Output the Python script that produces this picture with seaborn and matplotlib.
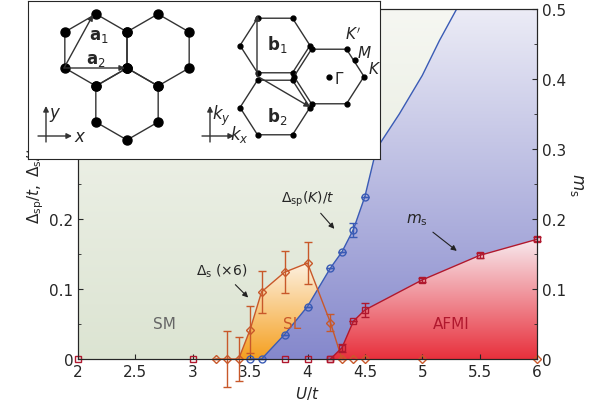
import numpy as np
import seaborn as sns
import matplotlib.pyplot as plt
from matplotlib.colors import to_rgb

sns.set_style("ticks")
plt.rcParams['font.family'] = ['DejaVu Sans']
plt.rcParams['mathtext.fontset'] = 'dejavusans'

# data
ds_x = [3.2, 3.3, 3.4, 3.5, 3.6, 3.8, 4.0, 4.2, 4.3, 4.4, 4.5, 5.0, 6.0]
ds_y = [0, 0, 0, 0.042, 0.096, 0.124, 0.137, 0.052, 0, 0, 0, 0, 0]
ds_err = [0, 0.04, 0.032, 0.034, 0.03, 0.03, 0.03, 0.012, 0, 0, 0, 0, 0]

sp_x = [3.5, 3.6, 3.8, 4.0, 4.2, 4.3, 4.4, 4.5]
sp_y = [0, 0, 0.035, 0.075, 0.13, 0.153, 0.185, 0.232]
sp_err = [0, 0, 0, 0, 0, 0, 0.01, 0]
sp_ext_x = [4.5, 4.6, 4.8, 5.0, 5.15, 5.3]
sp_ext_y = [0.232, 0.3, 0.35, 0.405, 0.455, 0.5]

ms_x = [2.0, 3.0, 3.8, 4.0, 4.2, 4.3, 4.4, 4.5, 5.0, 5.5, 6.0]
ms_y = [0, 0, 0, 0, 0, 0.016, 0.054, 0.07, 0.113, 0.148, 0.171]
ms_err = [0, 0, 0, 0, 0, 0.006, 0, 0.01, 0.003, 0.003, 0.003]

c_ds = '#c8582a'
c_sp = '#3a5bb5'
c_ms = '#b0182e'

fig = plt.figure(figsize=(6, 4.1), dpi=100)
ax = fig.add_axes([78 / 600, 50 / 410, 459 / 600, 350 / 410])

# background phase regions as one composite image
gx = np.linspace(2, 6, 900)
gy = np.linspace(0, 0.5, 700)
X, Y = np.meshgrid(gx, gy)
curve_x = np.array(sp_x[1:] + sp_ext_x[1:])
curve_y = np.array(sp_y[1:] + sp_ext_y[1:])
x_on_sp = np.interp(Y, curve_y, curve_x)
blue = X > x_on_sp
red = (X >= 4.2) & (Y < np.interp(X, ms_x[4:], ms_y[4:]))
orange = (X >= 3.4) & (X <= 4.3) & (Y < np.interp(X, ds_x[2:9], ds_y[2:9]))


def grad(c_bot, c_top, ymax):
    t = np.clip(Y / ymax, 0, 1)[..., None]
    return (1 - t) * np.array(to_rgb(c_bot)) + t * np.array(to_rgb(c_top))


img = grad('#dce4d2', '#f6f7f2', 0.5)
img = np.where(orange[..., None], grad('#f5a020', '#fdf2e4', 0.14), img)
img = np.where(blue[..., None], grad('#8588cc', '#ececf6', 0.5), img)
img = np.where(red[..., None], grad('#e8303c', '#f8eef2', 0.175), img)
ax.imshow(img, origin='lower', aspect='auto', extent=[2, 6, 0, 0.5], zorder=0,
          interpolation='bilinear')
ax.set_xlim(2, 6)
ax.set_ylim(0, 0.5)

# curves
ax.plot(sp_ext_x, sp_ext_y, color=c_sp, lw=1, zorder=5)
ax.errorbar(sp_x, sp_y, yerr=sp_err, color=c_sp, lw=1, marker='o', ms=5,
            mfc='none', capsize=3, zorder=6, clip_on=False)
ax.errorbar(ds_x[:9], ds_y[:9], yerr=ds_err[:9], color=c_ds, lw=1, marker='D', ms=4.5,
            mfc='none', capsize=3, zorder=6, clip_on=False)
ax.plot(ds_x[9:], ds_y[9:], ls='none', color=c_ds, marker='D', ms=4.5, mfc='none',
        zorder=6, clip_on=False)
ax.plot(ms_x[:5], ms_y[:5], ls='none', color=c_ms, marker='s', ms=5, mfc='none',
        zorder=6, clip_on=False)
ax.errorbar(ms_x[4:], ms_y[4:], yerr=ms_err[4:], color=c_ms, lw=1, marker='s', ms=5,
            mfc='none', capsize=3, zorder=7, clip_on=False)

# labels
ax.text(2.75, 0.05, 'SM', color='#666666', fontsize=11, ha='center', va='center', zorder=8)
ax.text(3.87, 0.05, 'SL', color=c_ds, fontsize=11, ha='center', va='center', zorder=8)
ax.text(5.25, 0.05, 'AFMI', color=c_ms, fontsize=11, ha='center', va='center', zorder=8)
arr = dict(arrowstyle='-|>', color='#222222', lw=0.8, mutation_scale=8)
ax.annotate(r'$\mathit{\Delta}_{\rm sp}(K)/t$', xy=(4.25, 0.183), xytext=(4.0, 0.225),
            fontsize=10, ha='center', arrowprops=arr, zorder=9)
ax.annotate(r'$\mathit{\Delta}_{\rm s}$ (×6)', xy=(3.5, 0.085), xytext=(3.25, 0.12),
            fontsize=10, ha='center', arrowprops=arr, zorder=9)
ax.annotate(r'$m_{\rm s}$', xy=(5.32, 0.152), xytext=(4.95, 0.195),
            fontsize=11, ha='center', arrowprops=arr, zorder=9)

ax.set_xticks(np.arange(2, 6.01, 0.5))
ax.set_xticklabels(['2', '2.5', '3', '3.5', '4', '4.5', '5', '5.5', '6'])
ax.set_yticks(np.arange(0, 0.51, 0.1))
ax.set_yticklabels(['0', '0.1', '0.2', '0.3', '0.4', '0.5'])
ax.set_yticks(np.arange(0.05, 0.5, 0.1), minor=True)
ax.tick_params(which='both', direction='in', labelsize=11)
ax.tick_params(which='minor', length=2.5)
ax.set_xlabel(r'$U/t$', fontsize=11)
ax.set_ylabel(r'$\mathit{\Delta}_{\rm sp}/t,\ \mathit{\Delta}_{\rm s}/t$', fontsize=11, labelpad=2)
ax2 = ax.twinx()
ax2.set_ylim(0, 0.5)
ax2.set_yticks(np.arange(0, 0.51, 0.1))
ax2.set_yticklabels(['0', '0.1', '0.2', '0.3', '0.4', '0.5'])
ax2.set_yticks(np.arange(0.05, 0.5, 0.1), minor=True)
ax2.tick_params(which='both', direction='in', labelsize=11)
ax2.tick_params(which='minor', length=2.5)
ax2.set_ylabel(r'$m_{\rm s}$', fontsize=12, rotation=270, labelpad=14)

# inset with lattices (pixel-like coordinates, y downwards)
ins = fig.add_axes([28 / 600, 250 / 410, 352 / 600, 158 / 410])
ins.set_xlim(28, 380)
ins.set_ylim(160, 2)
ins.set_xticks([])
ins.set_yticks([])
ins.set_facecolor('white')
ins.set_zorder(10)

r_real = 36.0
real_centers = [(96, 51), (158, 51), (127, 105)]
for cx, cy in real_centers:
    ang = np.deg2rad(np.arange(90, 451, 60))
    vx = cx + r_real * np.cos(ang)
    vy = cy - r_real * np.sin(ang)
    ins.plot(vx, vy, color='#333333', lw=1)
    ins.plot(vx[:-1], vy[:-1], 'o', color='black', ms=6.5)
r_k = 35.0
k_centers = [(275, 46.5), (275, 108.5), (329, 77.5)]
for cx, cy in k_centers:
    ang = np.deg2rad(np.arange(0, 361, 60))
    vx = cx + r_k * np.cos(ang)
    vy = cy - 0.9 * r_k * np.sin(ang)
    ins.plot(vx, vy, color='#333333', lw=1)
    ins.plot(vx[:-1], vy[:-1], 'o', color='black', ms=3.5)
ins.plot([329, 355], [77.5, 61], 'o', color='black', ms=3.5)

iarr = dict(arrowstyle='-|>', color='#333333', lw=1, mutation_scale=8, shrinkA=0, shrinkB=0)
ins.annotate('', xy=(93, 16), xytext=(64, 69), arrowprops=iarr)
ins.annotate('', xy=(125, 69), xytext=(64, 69), arrowprops=iarr)
ins.annotate('', xy=(257, 16), xytext=(257, 77), arrowprops=iarr)
ins.annotate('', xy=(310, 108), xytext=(257, 77), arrowprops=iarr)
ins.text(89, 40, r'$\mathbf{a}_1$', fontsize=12)
ins.text(86, 64, r'$\mathbf{a}_2$', fontsize=12)
ins.text(267, 50, r'$\mathbf{b}_1$', fontsize=12)
ins.text(267, 122, r'$\mathbf{b}_2$', fontsize=12)
ins.text(334, 84, r'$\mathit{\Gamma}$', fontsize=11)
ins.text(345, 40, r"$K'$", fontsize=11)
ins.text(357, 58, r'$M$', fontsize=11)
ins.text(368, 74, r'$K$', fontsize=11)
ins.annotate('', xy=(72, 137), xytext=(38, 137), arrowprops=iarr)
ins.annotate('', xy=(46, 107), xytext=(46, 143), arrowprops=iarr)
ins.text(74, 142, r'$x$', fontsize=12)
ins.text(49, 118, r'$y$', fontsize=12)
ins.annotate('', xy=(234, 137), xytext=(202, 137), arrowprops=iarr)
ins.annotate('', xy=(210, 107), xytext=(210, 143), arrowprops=iarr)
ins.text(230, 140, r'$k_x$', fontsize=12)
ins.text(212, 120, r'$k_y$', fontsize=12)

fig.savefig('out.png', dpi=100)
